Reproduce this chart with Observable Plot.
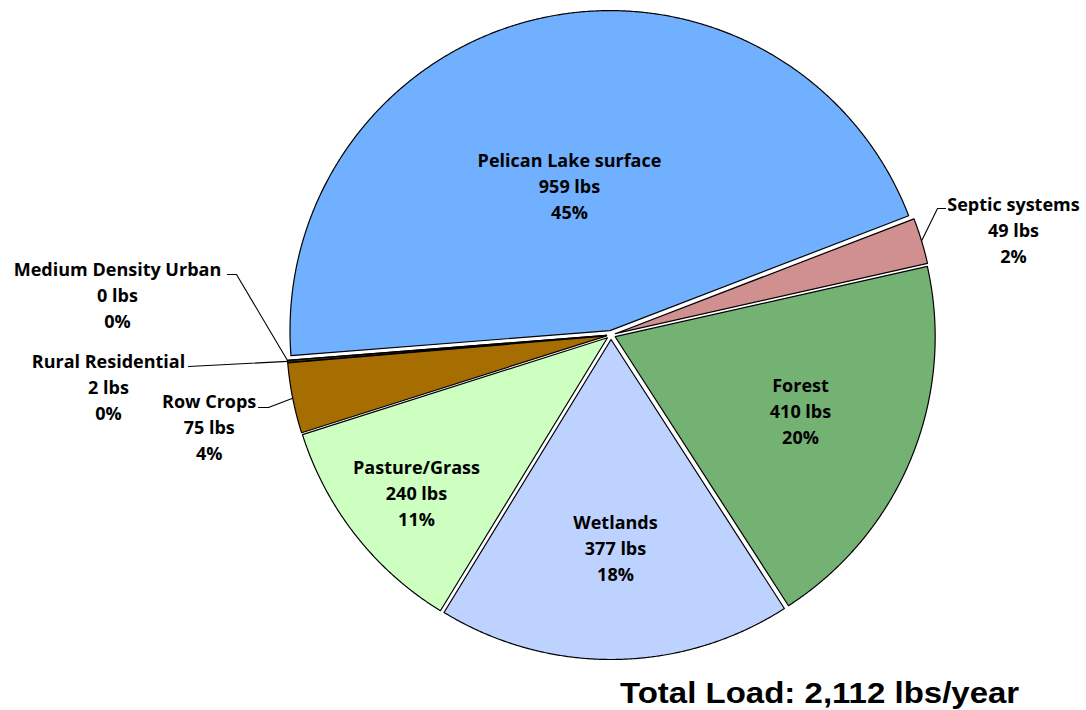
<!DOCTYPE html>
<html>
<head>
<meta charset="utf-8">
<script src="https://cdn.jsdelivr.net/npm/d3@7"></script>
<script src="https://cdn.jsdelivr.net/npm/@observablehq/plot@0.6"></script>
<style>
  body { margin: 0; background: #fff; }
  #chart svg { display: block; }
  #title { margin-top: 6px; padding-left: 620px; font-family: "Liberation Sans", Arial, sans-serif; font-weight: bold; font-size: 30px; color: #000; white-space: nowrap; }
  #title span { display: inline-block; transform: scaleX(1.10); transform-origin: left center; }
</style>
</head>
<body>
<div id="chart"></div>
<div id="title"><span>Total Load: 2,112 lbs/year</span></div>
<script>
// ---- data ----
const categories = ["Pelican Lake surface", "Septic systems", "Forest", "Wetlands", "Pasture/Grass", "Row Crops", "Rural Residential", "Medium Density Urban"];
const loads = [959, 49, 410, 377, 240, 75, 2, 0];
const percentLabels = ["45%", "2%", "20%", "18%", "11%", "4%", "0%", "0%"];
const sliceColors = ["#70B0FF", "#D09090", "#74B274", "#BED2FF", "#CCFFC0", "#A66E00", "#7A4A00", "#5A5A5A"];
const totalLabel = "Total Load: 2,112 lbs/year";

// ---- layout (in units of pie radius, relative to pie centre) ----
const startDeg = 265.5;           // clockwise from 12 o'clock
const explode = 4.5 / 320;        // slice explosion
const labelLayout = {
  "Pelican Lake surface": {pos: [-0.1297, 0.4700]},
  "Forest": {pos: [0.5922, -0.2330]},
  "Wetlands": {pos: [0.0141, -0.6610]},
  "Pasture/Grass": {pos: [-0.6078, -0.4890]},
  "Septic systems": {pos: [1.2578, 0.3320], leader: [[1.0203, 0.3953], [1.0453, 0.3953]]},
  "Medium Density Urban": {pos: [-1.5422, 0.1290], leader: [[-1.1703, 0.189], [-1.1984, 0.189]]},
  "Rural Residential": {pos: [-1.5703, -0.1570], leader: [[-1.3203, -0.0984]]},
  "Row Crops": {pos: [-1.2556, -0.2830], leader: [[-1.0703, -0.2266], [-1.1016, -0.2266]]}
};

const rows = categories.map((name, i) => ({name, load: loads[i], pct: percentLabels[i]}));
const a0 = startDeg * Math.PI / 180;
const arcs = d3.pie().sort(null).value(d => d.load).startAngle(a0).endAngle(a0 + 2 * Math.PI)(rows);

const polys = [];
const leaders = [];
const labels = [];
for (const a of arcs) {
  const name = a.data.name;
  const mid = (a.startAngle + a.endAngle) / 2;
  const ox = explode * Math.sin(mid), oy = explode * Math.cos(mid);
  polys.push({name, u: ox, v: oy});
  const n = Math.max(2, Math.ceil((a.endAngle - a.startAngle) / (0.25 * Math.PI / 180)));
  for (let k = 0; k <= n; k++) {
    const t = a.startAngle + (a.endAngle - a.startAngle) * k / n;
    polys.push({name, u: ox + Math.sin(t), v: oy + Math.cos(t)});
  }
  const L = labelLayout[name];
  labels.push({name, u: L.pos[0], v: L.pos[1], text: `${name}\n${a.data.load} lbs\n${a.data.pct}`});
  if (L.leader) {
    leaders.push({name, u: ox + Math.sin(mid), v: oy + Math.cos(mid)});
    for (const p of L.leader) leaders.push({name, u: p[0], v: p[1]});
  }
}

const chart = Plot.plot({
  width: 1086,
  height: 670,
  marginLeft: 290.5,
  marginRight: 155.5,
  marginTop: 14.5,
  marginBottom: 15.5,
  x: {domain: [-1, 1], axis: null},
  y: {domain: [-1, 1], axis: null},
  color: {domain: categories, range: sliceColors},
  marks: [
    Plot.line(polys, {x: "u", y: "v", z: "name", fill: "name", stroke: "#000", strokeWidth: 1.2, curve: "linear-closed"}),
    Plot.line(leaders, {x: "u", y: "v", z: "name", stroke: "#000", strokeWidth: 1.1}),
    Plot.text(labels, {x: "u", y: "v", text: "text", fontSize: 18, fontWeight: "bold", fontFamily: "'Open Sans', Lato, sans-serif", lineHeight: 1.45, fill: "#000"})
  ]
});
document.getElementById("chart").appendChild(chart);
</script>
</body>
</html>
